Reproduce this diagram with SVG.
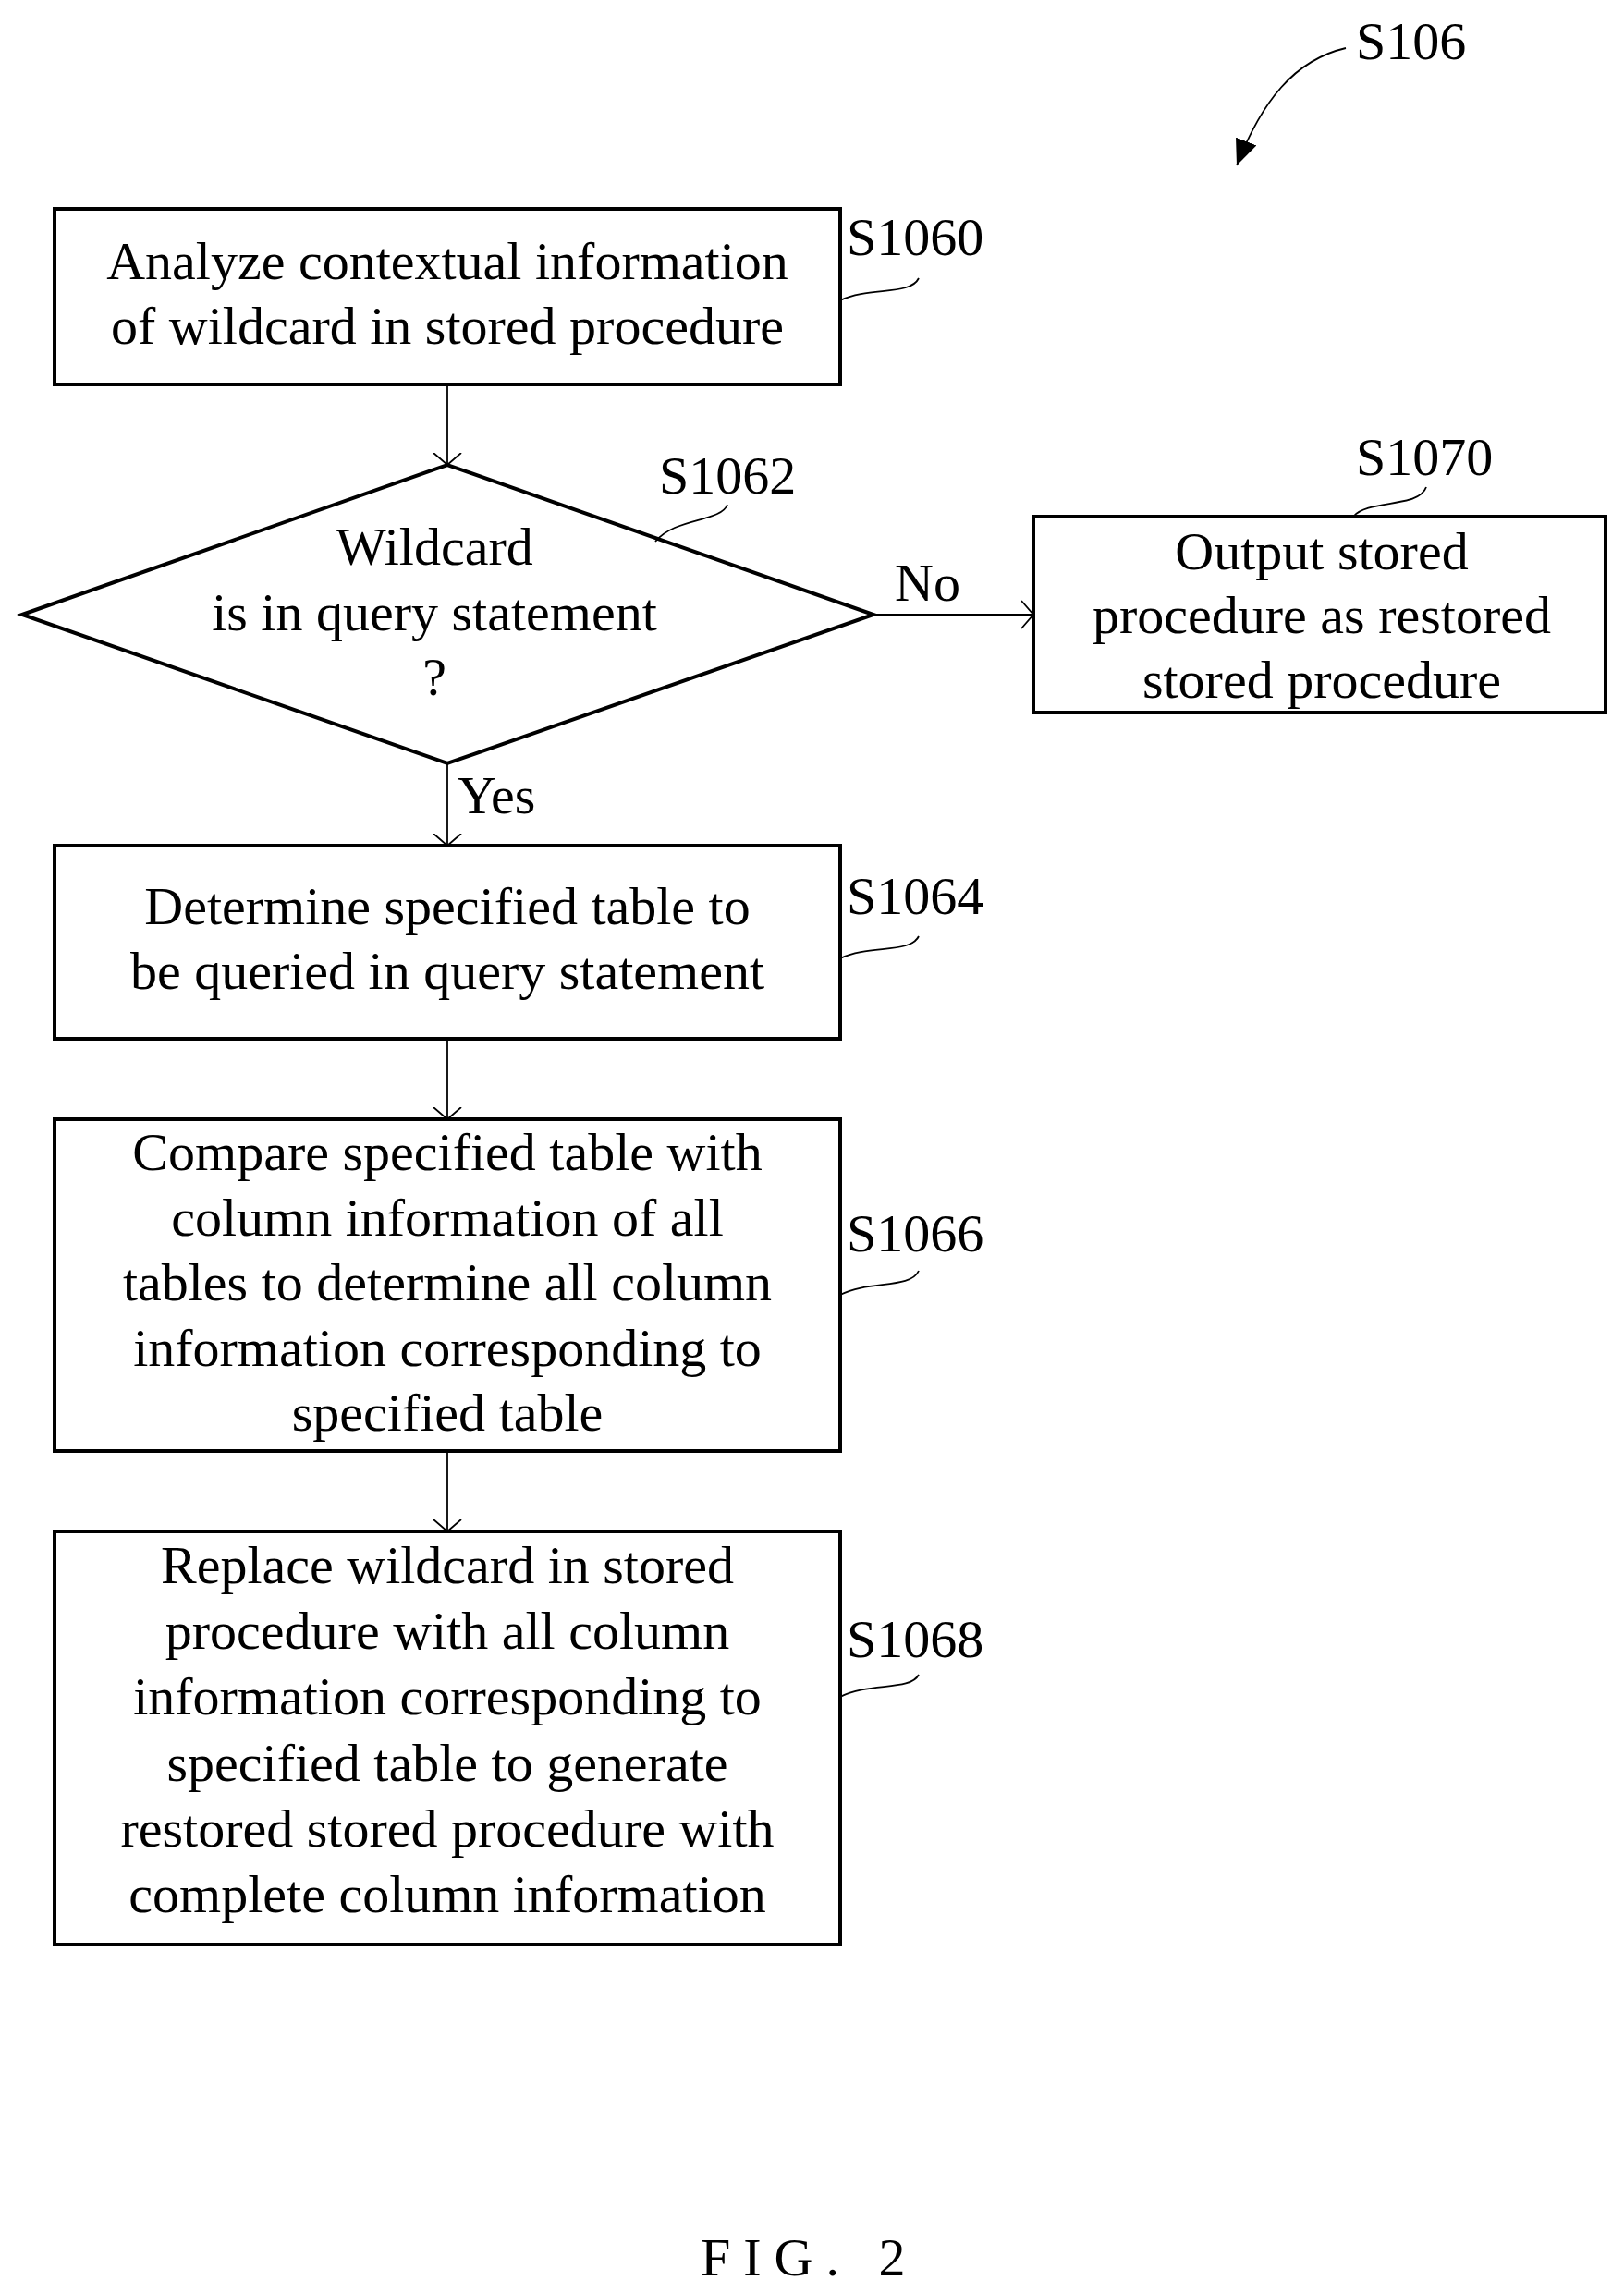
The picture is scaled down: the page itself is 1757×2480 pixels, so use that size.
<svg xmlns="http://www.w3.org/2000/svg" width="1757" height="2480" viewBox="0 0 1757 2480">
<style>
.b{fill:#fff;stroke:#000;stroke-width:4}
.t{font-family:"Liberation Serif",serif;font-size:58px;text-anchor:middle;fill:#000}
.l{font-family:"Liberation Serif",serif;font-size:58px;fill:#000}
.c{fill:none;stroke:#000;stroke-width:1.8}
</style>
<defs><marker id="a" markerWidth="14" markerHeight="40" refX="13" refY="20" orient="auto" markerUnits="userSpaceOnUse"><path d="M0,5 L13,20 L0,35" fill="none" stroke="#000" stroke-width="1.8"/></marker>
<marker id="f" markerWidth="30" markerHeight="24" refX="28" refY="12" orient="auto" markerUnits="userSpaceOnUse"><path d="M0,0 L28,12 L0,24 Z" fill="#000"/></marker></defs>
<rect width="1757" height="2480" fill="#fff"/>
<g id="connectors">
<line class="c" x1="484" y1="416" x2="484" y2="503" marker-end="url(#a)"/>
<line class="c" x1="484" y1="826" x2="484" y2="915" marker-end="url(#a)"/>
<line class="c" x1="484" y1="1124" x2="484" y2="1211" marker-end="url(#a)"/>
<line class="c" x1="484" y1="1570" x2="484" y2="1657" marker-end="url(#a)"/>
<line class="c" x1="945" y1="665" x2="1118" y2="665" marker-end="url(#a)"/>
<text class="l" x="968" y="650">No</text>
<text class="l" x="495" y="880">Yes</text>
<path class="c" d="M1456,52 C1400,65 1365,110 1338,179" marker-end="url(#f)"/>
</g>
<g id="S1060"><rect class="b" x="59" y="226" width="850" height="190"/>
<text class="t" x="484" y="302">Analyze contextual information</text>
<text class="t" x="484" y="372">of wildcard in stored procedure</text>
<text class="l" x="916" y="276">S1060</text>
<path class="c" d="M994,301 C985,320 940,310 909,325"/></g>
<g id="S1062"><polygon class="b" points="24,665 484,503 945,665 484,826"/>
<text class="t" x="470" y="611">Wildcard</text>
<text class="t" x="470" y="682">is in query statement</text>
<text class="t" x="470" y="752">?</text>
<text class="l" x="713" y="534">S1062</text>
<path class="c" d="M787,546 C780,565 730,560 709,586"/></g>
<g id="S1070"><rect class="b" x="1118" y="559" width="619" height="212"/>
<text class="t" x="1430" y="616">Output stored</text>
<text class="t" x="1430" y="685">procedure as restored</text>
<text class="t" x="1430" y="755">stored procedure</text>
<text class="l" x="1467" y="514">S1070</text>
<path class="c" d="M1543,527 C1535,550 1480,540 1464,559"/></g>
<g id="S1064"><rect class="b" x="59" y="915" width="850" height="209"/>
<text class="t" x="484" y="1000">Determine specified table to</text>
<text class="t" x="484" y="1070">be queried in query statement</text>
<text class="l" x="916" y="989">S1064</text>
<path class="c" d="M994,1013 C985,1032 940,1022 909,1037"/></g>
<g id="S1066"><rect class="b" x="59" y="1211" width="850" height="359"/>
<text class="t" x="484" y="1266">Compare specified table with</text>
<text class="t" x="484" y="1337">column information of all</text>
<text class="t" x="484" y="1407">tables to determine all column</text>
<text class="t" x="484" y="1478">information corresponding to</text>
<text class="t" x="484" y="1548">specified table</text>
<text class="l" x="916" y="1354">S1066</text>
<path class="c" d="M994,1375 C985,1395 940,1385 909,1401"/></g>
<g id="S1068"><rect class="b" x="59" y="1657" width="850" height="447"/>
<text class="t" x="484" y="1713">Replace wildcard in stored</text>
<text class="t" x="484" y="1784">procedure with all column</text>
<text class="t" x="484" y="1855">information corresponding to</text>
<text class="t" x="484" y="1927">specified table to generate</text>
<text class="t" x="484" y="1998">restored stored procedure with</text>
<text class="t" x="484" y="2069">complete column information</text>
<text class="l" x="916" y="1793">S1068</text>
<path class="c" d="M994,1812 C985,1830 940,1820 909,1836"/></g>
<text class="l" x="1467" y="64">S106</text>
<text class="l" x="758" y="2462" font-size="125" letter-spacing="14">FIG. 2</text>
</svg>
